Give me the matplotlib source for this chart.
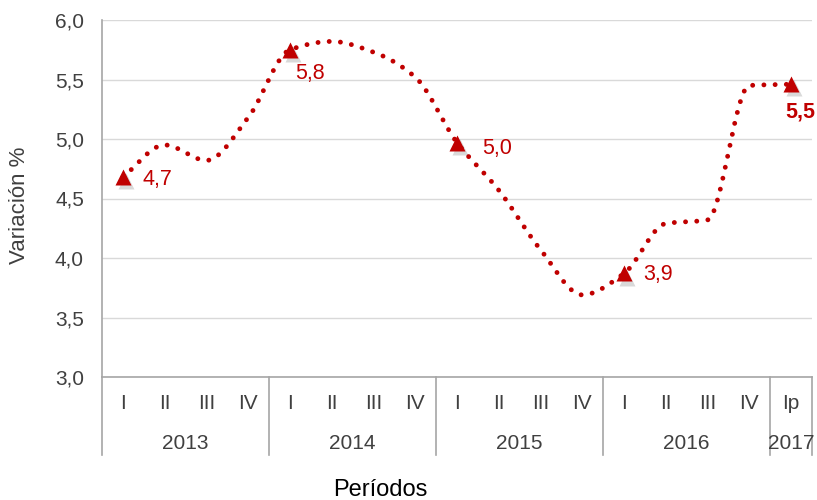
import matplotlib as mpl
mpl.use('Agg')
from matplotlib import pyplot as plt
import matplotlib.transforms as mtrans
import numpy as np

plt.rcParams['font.family'] = ['Liberation Sans', 'DejaVu Sans']

#data
quarters = ['I', 'II', 'III', 'IV'] * 4 + ['Ip']
years    = ['2013', '2014', '2015', '2016', '2017']
n_q      = [4, 4, 4, 4, 1]
values   = [4.68, 4.95, 4.82, 5.18, 5.75, 5.82, 5.73, 5.52,
            4.97, 4.57, 4.07, 3.69, 3.87, 4.29, 4.32, 5.45, 5.46]
lbl_idx  = [0, 4, 8, 12, 16]
lbl_txt  = ['4,7', '5,8', '5,0', '3,9', '5,5']

#styles
red   = '#C00000'
grey  = '#404040'
axcol = '#A6A6A6'


def smooth(y, n=40):
    #monotone cubic (fritsch-carlson), no overshoot on the flat bits
    y = np.asarray(y, float)
    d = np.diff(y)
    m = np.zeros_like(y)
    m[0], m[-1] = d[0], d[-1]
    for i in range(1, len(y) - 1):
        if d[i - 1] * d[i] > 0:
            m[i] = 2.0 / (1.0 / d[i - 1] + 1.0 / d[i])
    xs, ys = [], []
    for i in range(len(y) - 1):
        t = np.linspace(0, 1, n, endpoint=False)
        h00 = 2 * t**3 - 3 * t**2 + 1
        h10 = t**3 - 2 * t**2 + t
        h01 = -2 * t**3 + 3 * t**2
        h11 = t**3 - t**2
        ys.append(h00 * y[i] + h10 * m[i] + h01 * y[i + 1] + h11 * m[i + 1])
        xs.append(i + t)
    xs.append([len(y) - 1])
    ys.append([y[-1]])
    return np.concatenate(xs), np.concatenate(ys)


fig = plt.figure(figsize=(8.17, 5.0), dpi=100)
ax = fig.add_axes([102 / 817, 123 / 500, 710 / 817, 357 / 500])

x = np.arange(len(values))
xs, ys = smooth(values)
ax.plot(xs, ys, color=red, lw=3.5, linestyle=(0, (0.01, 2.3)),
        dash_capstyle='round', zorder=3)

#markers with a soft shadow
mx = [x[i] for i in lbl_idx]
my = [values[i] for i in lbl_idx]
shadow = mtrans.offset_copy(ax.transData, fig=fig, x=2, y=-3, units='points')
ax.plot(mx, my, '^', ms=12, color='#000000', alpha=0.15, mec='none',
        transform=shadow, zorder=3)
ax.plot(mx, my, '^', ms=12, color=red, mec='none', zorder=4)

#data labels
offs = [(14, -2), (4, -17), (18, -4), (14, -1), (-4, -20)]
for i, t, (dx, dy) in zip(lbl_idx, lbl_txt, offs):
    ax.annotate(t, (x[i], values[i]), xytext=(dx, dy), textcoords='offset points',
                color=red, fontsize=15.5, va='center', ha='left',
                fontweight='bold' if i == lbl_idx[-1] else 'normal')

ax.set_ylim(3.0, 6.0)
ax.set_xlim(-0.5, len(values) - 0.5)
ax.set_yticks(np.arange(3.0, 6.01, 0.5))
ax.set_yticklabels([f'{v:.1f}'.replace('.', ',') for v in np.arange(3.0, 6.01, 0.5)])
ax.yaxis.grid(True, color='#D9D9D9', lw=1)
ax.set_axisbelow(True)
ax.tick_params(axis='y', length=0, pad=13, labelsize=15, labelcolor=grey)

ax.set_xticks(x)
ax.set_xticklabels(quarters)
ax.tick_params(axis='x', length=0, pad=12, labelsize=15, labelcolor=grey)

for s in ['top', 'right']:
    ax.spines[s].set_visible(False)
for s in ['left', 'bottom']:
    ax.spines[s].set_color(axcol)
    ax.spines[s].set_linewidth(1.2)

#year level of the axis
trans = mtrans.blended_transform_factory(ax.transData, ax.transAxes)
edges = np.concatenate([[0], np.cumsum(n_q)]) - 0.5
for e in edges:
    ax.plot([e, e], [0, -0.218], color=axcol, lw=1.2, transform=trans, clip_on=False)
for yr, a, b in zip(years, edges[:-1], edges[1:]):
    ax.text((a + b) / 2, -0.185, yr, transform=trans, ha='center', va='center',
            fontsize=15, color=grey)

fig.text(20 / 817, 1 - 205 / 500, 'Variación %', rotation=90, ha='center',
         va='center', fontsize=16, color=grey)
fig.text(380 / 817, 1 - 496 / 500, 'Períodos', ha='center', va='baseline',
         fontsize=17, color='#000000')

plt.savefig('out.png', dpi=100)
